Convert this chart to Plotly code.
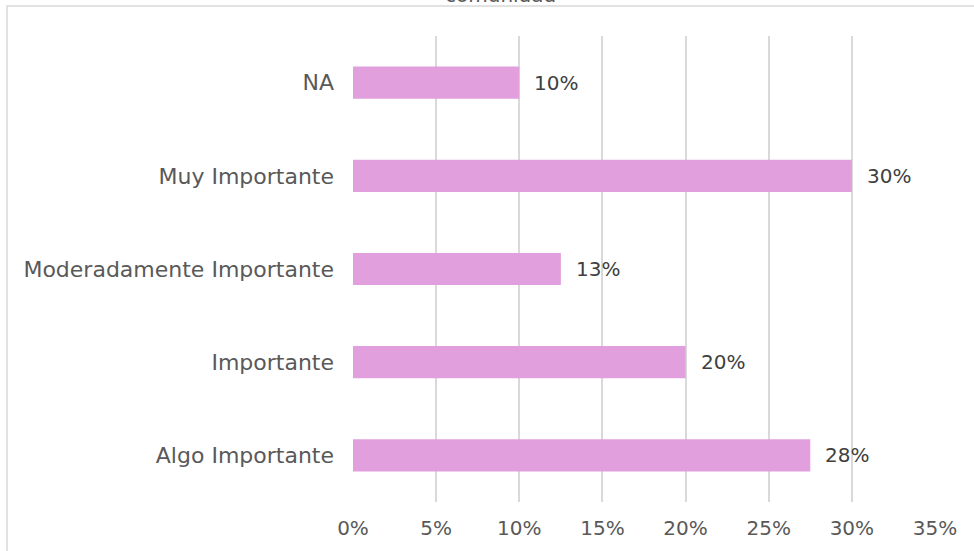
import plotly.graph_objects as go

categories = ["Algo Importante", "Importante", "Moderadamente Importante", "Muy Importante", "NA"]
values = [0.275, 0.20, 0.125, 0.30, 0.10]
labels = ["28%", "20%", "13%", "30%", "10%"]
x_ticks = [0, 0.05, 0.10, 0.15, 0.20, 0.25, 0.30, 0.35]

W, H = 974, 551
L, R, T, B = 353, 39, 36, 49
pw, ph = W - L - R, H - T - B

font_family = "'DejaVu Sans', sans-serif"
txt_color = "#595959"
fsize = 20

fig = go.Figure()
fig.add_trace(go.Bar(
    y=categories, x=values, orientation="h",
    marker=dict(color="#E29FDD", line=dict(width=0)),
    hoverinfo="skip", showlegend=False,
))

for c, v, lab in zip(categories, values, labels):
    fig.add_annotation(x=v, y=c, xref="x", yref="y", text=lab, showarrow=False,
                       xanchor="left", xshift=13,
                       font=dict(family=font_family, size=fsize, color="#404040"))

# cut-off title at the very top
fig.add_annotation(x=(500 - L) / pw, y=(ph + T + 5) / ph, xref="paper", yref="paper",
                   text="comunidad", showarrow=False, xanchor="center", yanchor="middle",
                   font=dict(family=font_family, size=fsize, color=txt_color))

# chart frame border
fig.add_shape(type="rect", xref="paper", yref="paper",
              x0=(7 - L) / pw, x1=1.3, y0=-0.3, y1=(ph + T - 6) / ph,
              line=dict(color="#d9d9d9", width=1.5), fillcolor="rgba(0,0,0,0)", layer="below")

fig.update_layout(
    width=W, height=H,
    margin=dict(l=L, r=R, t=T, b=B, pad=0),
    paper_bgcolor="white", plot_bgcolor="white",
    bargap=0.655,
    font=dict(family=font_family, size=fsize, color=txt_color),
    xaxis=dict(range=[0, 0.35], tickvals=x_ticks, tickformat=".0%",
               showgrid=True, gridcolor="#d9d9d9", gridwidth=1.5,
               zeroline=False, showline=False, ticks="",
               ticklabelstandoff=12, fixedrange=True),
    yaxis=dict(showgrid=False, zeroline=False, showline=False, ticks="",
               tickfont=dict(size=22),
               ticklabelstandoff=18, fixedrange=True),
)

fig.write_html("out.html", config={"displayModeBar": False},
               post_script="document.body.style.margin='0';document.body.style.overflow='hidden';")
